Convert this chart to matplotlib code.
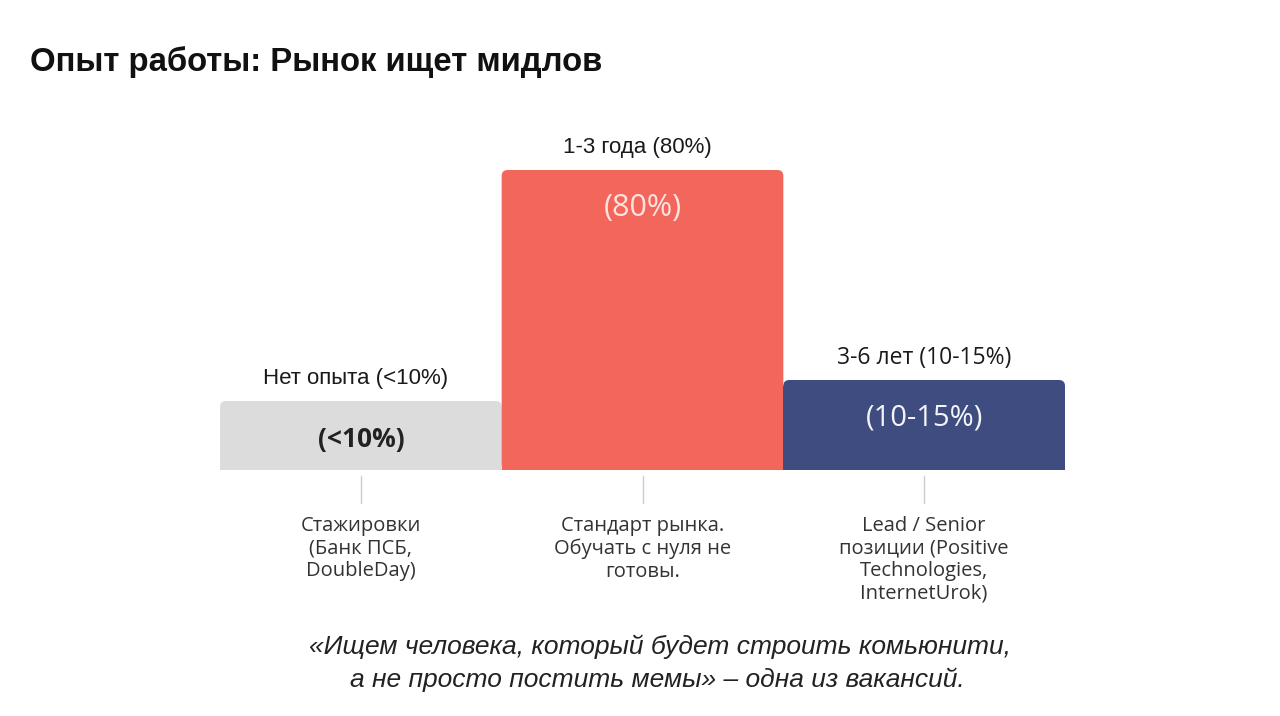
import matplotlib
matplotlib.use("Agg")
import matplotlib.pyplot as plt
from matplotlib.patches import FancyBboxPatch, Rectangle

# данные
categories = ["Нет опыта (<10%)", "1-3 года (80%)", "3-6 лет (10-15%)"]
inner_labels = ["(<10%)", "(80%)", "(10-15%)"]
bar_heights = [23, 100, 30]  # визуальная высота столбцов
descriptions = [
    "Стажировки\n(Банк ПСБ,\nDoubleDay)",
    "Стандарт рынка.\nОбучать с нуля не\nготовы.",
    "Lead / Senior\nпозиции (Positive\nTechnologies,\nInternetUrok)",
]
colors = ["#dcdcdc", "#f2665b", "#3f4c80"]
inner_colors = ["#222222", "#fde3df", "#f4f4f8"]
title = "Опыт работы: Рынок ищет мидлов"
quote_lines = ["«Ищем человека, который будет строить комьюнити,",
               "а не просто постить мемы» – одна из вакансий."]

fig = plt.figure(figsize=(12.8, 7.16), dpi=100)
W, H = 1280, 716
ax_w, ax_h = 845, 300
ax = fig.add_axes([220 / W, (H - 470) / H, ax_w / W, ax_h / H])
x = [0.5, 1.5, 2.5]
bars = ax.bar(x, bar_heights, width=1.0, color=colors, linewidth=0)
ax.set_xlim(0, 3)
ax.set_ylim(0, 100)
ax.axis("off")

# скругляем верхние углы
r_px = 6
rx = r_px / (ax_w / 3)
ry = r_px / (ax_h / 100)
for b in bars:
    bx, by, bw, bh = b.get_x(), b.get_y(), b.get_width(), b.get_height()
    fc = b.get_facecolor()
    ax.add_patch(FancyBboxPatch((bx, by), bw, bh, boxstyle=f"round,pad=0,rounding_size={rx}",
                                mutation_aspect=ry / rx, fc=fc, lw=0))
    ax.add_patch(Rectangle((bx, by), bw, bh - ry, fc=fc, lw=0))
    b.set_visible(False)

top_sizes = [16, 16, 16.5]
inner_sizes = [19, 22, 21]
for i, b in enumerate(bars):
    h = b.get_height()
    ax.annotate(categories[i], (x[i], h), xytext=(-4 if i < 2 else 0, 16),
                textcoords="offset points", ha="center", va="center",
                fontsize=top_sizes[i], color="#1a1a1a",
                family=["Liberation Sans", "DejaVu Sans"] if i < 2 else ["Open Sans", "DejaVu Sans"],
                annotation_clip=False)
    ax.annotate(inner_labels[i], (x[i], h), xytext=(0, -27.5), textcoords="offset points",
                ha="center", va="center", fontsize=inner_sizes[i], color=inner_colors[i],
                fontweight="bold" if i == 0 else "normal",
                family=["Open Sans", "DejaVu Sans"], annotation_clip=False)
    # тик под столбцом
    ax.plot([x[i], x[i]], [-2, -11], color="#cccccc", lw=1, clip_on=False)
    ax.annotate(descriptions[i], (x[i], 0), xytext=(0, -33), textcoords="offset points",
                ha="center", va="top", fontsize=14.5, color="#333333",
                family=["Open Sans", "DejaVu Sans"], linespacing=1.18,
                annotation_clip=False)

fig.text(30 / W, 1 - 62 / H, title, ha="left", va="center", fontsize=23.7,
         fontweight="bold", color="#111111", family=["Liberation Sans", "DejaVu Sans"])
for j, (line, cx, cy) in enumerate(zip(quote_lines, [660, 657], [647, 680])):
    fig.text(cx / W, 1 - cy / H, line, ha="center", va="center", fontsize=19,
             style="italic", color="#222222", family=["Liberation Sans", "DejaVu Sans"])

fig.savefig("out.png", dpi=100)
